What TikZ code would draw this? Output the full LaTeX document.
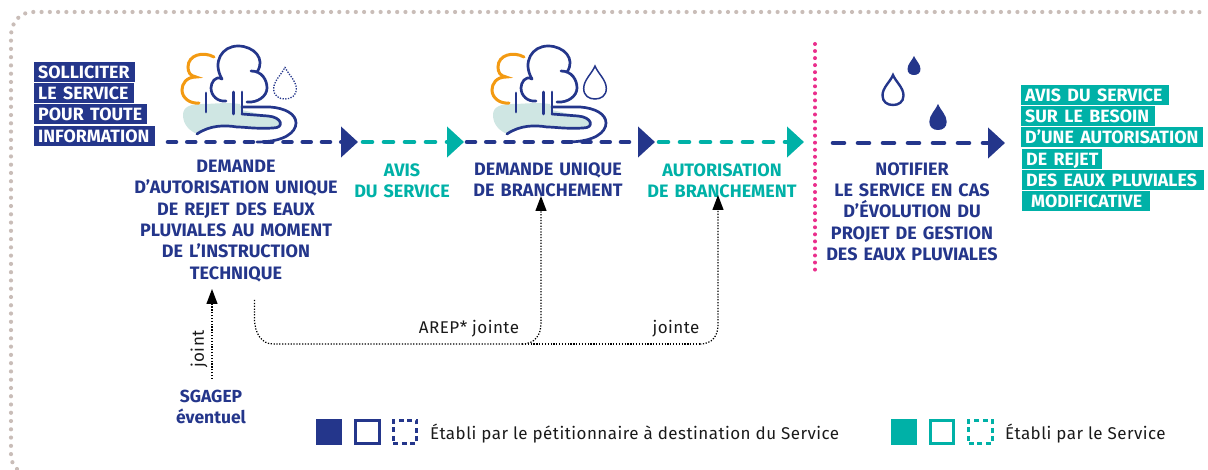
\documentclass[tikz,border=0pt]{standalone}
\usepackage{fontspec}
\setmainfont{Fira Sans}
\usetikzlibrary{arrows.meta}
\definecolor{navy}{HTML}{24368B}
\definecolor{teal2}{HTML}{00B1A7}
\definecolor{frameC}{HTML}{C9BDB8}
\definecolor{pinkC}{HTML}{EA2E8C}
\definecolor{orangeC}{HTML}{F39A12}
\definecolor{blobC}{HTML}{CFE6E3}
\definecolor{inkC}{HTML}{1A1A1A}
\newcommand{\dropshape}[4]{%
  (#1,#2) .. controls ({#1+0.25*#4},{#2+0.22*(#3-#2)}) and ({#1+#4},{#2+0.42*(#3-#2)}) .. ({#1+#4},{#2+0.68*(#3-#2)})
  .. controls ({#1+#4},{#2+0.9*(#3-#2)}) and ({#1+0.55*#4},#3) .. (#1,#3)
  .. controls ({#1-0.55*#4},#3) and ({#1-#4},{#2+0.9*(#3-#2)}) .. ({#1-#4},{#2+0.68*(#3-#2)})
  .. controls ({#1-#4},{#2+0.42*(#3-#2)}) and ({#1-0.25*#4},{#2+0.22*(#3-#2)}) .. (#1,#2) -- cycle}
\newcommand{\hltxt}[2]{\makebox[\dimexpr#1-8pt\relax][l]{#2}}
\newcommand{\labelfont}{\bfseries\fontsize{18}{21.3}\selectfont\spaceskip=6pt\relax}
\newcommand{\hlfont}{\bfseries\fontsize{17.8}{19}\selectfont\spaceskip=6.5pt\relax}
\tikzset{
  x=1pt,y=-1pt,
  navytext/.style={text=navy,font=\labelfont,align=center,inner sep=0pt},
  tealtext/.style={navytext,text=teal2},
  hlnavy/.style={fill=navy,text=white,anchor=north west,font=\hlfont,inner xsep=4pt,inner ysep=0pt,minimum height=19.5pt,text height=14.5pt,text depth=2pt},
  hlteal/.style={hlnavy,fill=teal2},
  dashline/.style={line width=4.6pt,line cap=round},
  headtip/.style={-{Triangle[length=17pt,width=30pt]}},
  dotline/.style={black,line width=1.25pt,dash pattern=on 1.25pt off 1.6pt},
  dotarrow/.style={dotline,-{Triangle[length=15pt,width=11pt]}},
  treeline/.style={navy,line width=2.7pt,line cap=round,line join=round},
  plaintext/.style={text=inkC,font=\addfontfeature{LetterSpace=2.7}\fontsize{17}{18}\selectfont,inner sep=0pt},
  legendbox/.style={minimum size=23.5pt,inner sep=0pt,line width=2.7pt},
}
\newcommand{\treeicon}[1]{%
\begin{scope}[shift={(#1,0)}]
  \fill[blobC] (202,104) .. controls (190,104) and (183,107) .. (183,115)
     .. controls (183,125) and (190,131) .. (197,134)
     .. controls (212,125) and (225,126) .. (237,127)
     .. controls (250,128) and (262,129) .. (273,128)
     .. controls (284,127) and (284,117) .. (273,117)
     -- (242,110) -- (240,104)
     .. controls (225,102) and (215,104) .. (202,104) -- cycle;
  \draw[orangeC,line width=3pt,line cap=round] (214,57) .. controls (203,51) and (188,55) .. (188,67)
     .. controls (188,72) and (190,76) .. (196,77) .. controls (186,77) and (182,84) .. (182,90)
     .. controls (182,98) and (190,104) .. (199,103);
  \draw[treeline] (222,79) .. controls (212,62) and (222,46) .. (238,46)
     .. controls (254,46) and (266,59) .. (257,72);
  \draw[treeline] (251,71) .. controls (262,71) and (267,80) .. (267,88) .. controls (267,96) and (258,103) .. (247,102);
  \draw[treeline] (222,79) .. controls (215,75) and (211,83) .. (211,88) .. controls (211,96) and (218,102) .. (226,101);
  \draw[treeline] (206,93) -- (206,112);
  \draw[treeline] (233.5,92) -- (233.5,114);
  \draw[treeline] (242,92) -- (242,114);
  \draw[treeline] (242,107) -- (270,107) .. controls (285,108) and (296,114) .. (296,123)
     .. controls (296,132) and (285,142) .. (257,142);
  \draw[treeline] (242,114) -- (268,116) .. controls (282,117) and (285,128) .. (273,128)
     .. controls (255,129) and (245,127) .. (237,127) .. controls (225,125) and (210,125) .. (197,134);
\end{scope}}
\begin{document}
\begin{tikzpicture}
\useasboundingbox (0,0) rectangle (1208,470);
% frame
\draw[frameC,line width=4.2pt,line cap=round,dash pattern=on 0pt off 8.27pt]
  (17,469) .. controls (14,466) and (11,462) .. (11,455) -- (11,36)
  .. controls (11,22) and (20,13) .. (31,12) -- (1198,12) .. controls (1201,12) and (1204,12.5) .. (1206,14);
% icons
\treeicon{0}
\treeicon{310}
\draw[navy,line width=1.3pt,dash pattern=on 1.3pt off 1.4pt] \dropshape{285}{67}{99}{11.3};
\draw[navy,line width=1.5pt] \dropshape{595}{66}{99}{11.3};
\draw[navy,line width=2.4pt] \dropshape{893}{75}{105}{10.5};
\fill[navy] \dropshape{914}{56}{75}{6.5};
\fill[navy] \dropshape{938}{104}{130}{8.7};
% separator
\coordinate (pinkA) at (815,44);
\coordinate (pinkB) at (815,270);
\draw[pinkC,line width=4pt,line cap=round,dash pattern=on 0pt off 7.05pt] (pinkA) -- (pinkB);
% timeline
\coordinate (p0) at (168,142);
\coordinate (p1) at (358,142);
\coordinate (p2) at (363,142);
\coordinate (p3) at (464,142);
\coordinate (p4) at (467,142);
\coordinate (p5) at (655,142);
\coordinate (p6) at (659,142);
\coordinate (p7) at (804,142);
\coordinate (p8) at (833,143);
\coordinate (p9) at (1005,143);
\draw[navy,dashline,headtip,dash pattern=on 8pt off 11.25pt] (p0) -- (p1);
\draw[teal2,dashline,headtip,dash pattern=on 9pt off 12pt] (p2) -- (p3);
\draw[navy,dashline,headtip,dash pattern=on 8pt off 11.25pt] (p4) -- (p5);
\draw[teal2,dashline,headtip,dash pattern=on 9pt off 12pt] (p6) -- (p7);
\draw[navy,dashline,headtip,dash pattern=on 11pt off 14pt] (p8) -- (p9);
% highlighted texts
\node[hlnavy] (s1) at (34,62) {\hltxt{101pt}{SOLLICITER}};
\node[hlnavy] (s2) at (34,83) {\hltxt{100pt}{LE SERVICE}};
\node[hlnavy] (s3) at (34,104) {\hltxt{113pt}{POUR TOUTE}};
\node[hlnavy] (s4) at (34,126) {\hltxt{121pt}{INFORMATION}};
\node[hlteal] (a1) at (1021,85) {\hltxt{148pt}{AVIS DU SERVICE}};
\node[hlteal] (a2) at (1021,106) {\hltxt{134pt}{SUR LE BESOIN}};
\node[hlteal] (a3) at (1021,127) {\hltxt{182pt}{D’UNE AUTORISATION}};
\node[hlteal] (a4) at (1022,149) {\hltxt{80pt}{DE REJET}};
\node[hlteal] (a5) at (1022,170) {\hltxt{182pt}{DES EAUX PLUVIALES}};
\node[hlteal] (a6) at (1022,191) {\hltxt{128pt}{\hspace*{5pt}MODIFICATIVE}};
% step labels
\node[navytext] (t1) at (236,221) {DEMANDE\\D’AUTORISATION UNIQUE\\DE REJET DES EAUX\\PLUVIALES AU MOMENT\\DE L’INSTRUCTION\\TECHNIQUE};
\node[tealtext] (t2) at (402,181) {AVIS\\DU SERVICE};
\node[navytext] (t3) at (548,179.5) {DEMANDE UNIQUE\\DE BRANCHEMENT};
\node[tealtext] (t4) at (722,181) {AUTORISATION\\DE BRANCHEMENT};
\node[navytext] (t5) at (912,211.5) {NOTIFIER\\LE SERVICE EN CAS\\D’ÉVOLUTION DU\\PROJET DE GESTION\\DES EAUX PLUVIALES};
\node[navytext,font=\bfseries\fontsize{17.5}{21}\selectfont] (sg) at (211,406.5) {SGAGEP\\éventuel};
% dotted connectors
\coordinate (dstart) at (254.5,300);
\coordinate (tipA) at (541,196);
\coordinate (tipB) at (718,195);
\coordinate (tipJ) at (212,289);
\coordinate (startJ) at (212,379);
\draw[dotarrow] (startJ) -- (tipJ);
\draw[dotline] (dstart) -- (254.5,318) .. controls (254.5,334) and (262,344) .. (273,344) -- (522,344);
\draw[dotarrow] (522,344) .. controls (535,344) and (541,335) .. (541,323) -- (tipA);
\draw[dotline] (522,344) -- (700,344);
\draw[dotarrow] (700,344) .. controls (712,344) and (718,336) .. (718,325) -- (tipB);
\node[plaintext] (l1) at (469,328.5) {AREP* jointe};
\node[plaintext] (l2) at (676,328.5) {jointe};
\node[plaintext,rotate=90] (l3) at (199,349) {joint};
% legend
\node[legendbox,fill=navy,minimum size=26pt] (k1) at (329,432) {};
\node[legendbox,draw=navy] (k2) at (367.5,432) {};
\node[legendbox,draw=navy,dash pattern=on 5pt off 3.6pt] (k3) at (405,432) {};
\node[plaintext,anchor=west] (k4) at (430,434) {Établi par le pétitionnaire à destination du Service};
\node[legendbox,fill=teal2,minimum size=26pt] (k5) at (904,432) {};
\node[legendbox,draw=teal2] (k6) at (942,432) {};
\node[legendbox,draw=teal2,dash pattern=on 5pt off 3.6pt] (k7) at (980.5,432) {};
\node[plaintext,anchor=west] (k8) at (1005,434) {Établi par le Service};
\end{tikzpicture}
\end{document}
